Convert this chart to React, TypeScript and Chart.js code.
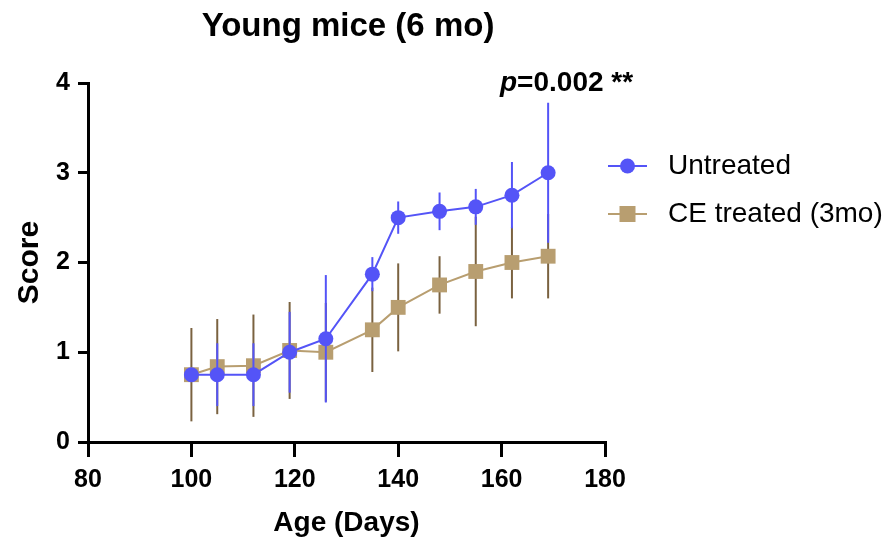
import React, { useEffect, useRef } from "react";
import { Chart, registerables } from "chart.js";

Chart.register(...registerables);

const ages = [100, 105, 112, 119, 126, 135, 140, 148, 155, 162, 169];
const untreatedMean = [0.75, 0.75, 0.75, 1.0, 1.15, 1.87, 2.5, 2.57, 2.62, 2.75, 3.0];
const untreatedSD = [0, 0.35, 0.35, 0.45, 0.71, 0.19, 0.18, 0.21, 0.2, 0.37, 0.78];
const ceMean = [0.75, 0.84, 0.85, 1.02, 1.0, 1.25, 1.5, 1.75, 1.9, 2.0, 2.07];
const ceSD = [0.52, 0.53, 0.57, 0.54, 0.55, 0.47, 0.49, 0.32, 0.61, 0.4, 0.47];

const seriesNames = ["Untreated", "CE treated (3mo)"];
const xTicks = [80, 100, 120, 140, 160, 180];
const yTicks = [0, 1, 2, 3, 4];
const titleText = "Young mice (6 mo)";
const xTitle = "Age (Days)";
const yTitle = "Score";
const pLabel = "p";
const pValueText = "=0.002 **";

const BLUE = "#5454F7";
const TAN = "#B89E70";
const BROWN = "#7A6240";
const FONT = "'Liberation Sans', Arial, Helvetica, sans-serif";

const errs = [untreatedSD, ceSD];
const means = [untreatedMean, ceMean];
const barColors = [BLUE, BROWN];

const errorBarPlugin = {
  id: "errorBars",
  beforeDatasetDraw(chart: any, args: any) {
    const i = args.index;
    const xs = chart.scales.x;
    const ys = chart.scales.y;
    const ctx = chart.ctx;
    ctx.save();
    ctx.strokeStyle = barColors[i];
    ctx.lineWidth = 2;
    ages.forEach((a, k) => {
      const sd = errs[i][k];
      if (!sd) return;
      const px = xs.getPixelForValue(a);
      const top = ys.getPixelForValue(means[i][k] + sd);
      const bot = ys.getPixelForValue(means[i][k] - sd);
      ctx.beginPath();
      ctx.moveTo(px, top);
      ctx.lineTo(px, bot);
      ctx.stroke();
    });
    ctx.restore();
  },
};

const textPlugin = {
  id: "texts",
  afterDraw(chart: any) {
    const ctx = chart.ctx;
    ctx.save();
    ctx.fillStyle = "#000";
    ctx.textBaseline = "middle";
    // title
    ctx.font = `bold 33px ${FONT}`;
    ctx.textAlign = "center";
    ctx.fillText(titleText, 348, 27);
    // p value
    ctx.textAlign = "left";
    ctx.font = `italic bold 28px ${FONT}`;
    const px0 = 500;
    ctx.fillText(pLabel, px0, 83);
    const w = ctx.measureText(pLabel).width;
    ctx.font = `bold 28px ${FONT}`;
    ctx.fillText(pValueText, px0 + w, 83);
    // legend
    const legendY = [166, 214];
    const lx1 = 608;
    const lx2 = 647;
    const mx = 627.5;
    legendY.forEach((ly, i) => {
      const col = i === 0 ? BLUE : TAN;
      ctx.strokeStyle = col;
      ctx.lineWidth = 2;
      ctx.beginPath();
      ctx.moveTo(lx1, ly);
      ctx.lineTo(lx2, ly);
      ctx.stroke();
      ctx.fillStyle = col;
      if (i === 0) {
        ctx.beginPath();
        ctx.arc(mx, ly, 7.5, 0, Math.PI * 2);
        ctx.fill();
      } else {
        ctx.fillRect(mx - 8, ly - 8, 16, 16);
      }
      ctx.fillStyle = "#000";
      ctx.font = `28px ${FONT}`;
      ctx.fillText(seriesNames[i], 668, ly);
    });
    ctx.restore();
  },
};

export default function App() {
  const ref = useRef<HTMLCanvasElement | null>(null);
  useEffect(() => {
    document.body.style.margin = "0";
    const canvas = ref.current;
    if (!canvas) return;
    const chart = new Chart(canvas, {
      type: "line",
      data: {
        datasets: [
          {
            label: seriesNames[0],
            data: ages.map((a, k) => ({ x: a, y: untreatedMean[k] })),
            borderColor: BLUE,
            backgroundColor: BLUE,
            borderWidth: 2,
            pointStyle: "circle",
            pointRadius: 7.5,
            pointBorderWidth: 0,
            pointBackgroundColor: BLUE,
            tension: 0,
            clip: false,
          },
          {
            label: seriesNames[1],
            data: ages.map((a, k) => ({ x: a, y: ceMean[k] })),
            borderColor: TAN,
            backgroundColor: TAN,
            borderWidth: 2,
            pointStyle: "rect",
            pointRadius: 10.5,
            pointBorderWidth: 0,
            pointBackgroundColor: TAN,
            tension: 0,
            clip: false,
          },
        ],
      },
      options: {
        responsive: false,
        animation: false,
        layout: { padding: { top: 83, right: 286, bottom: 0, left: 0 } },
        plugins: {
          legend: { display: false },
          title: { display: false },
          tooltip: { enabled: false },
        },
        scales: {
          x: {
            type: "linear",
            min: 80,
            max: 180,
            afterFit: (s: any) => {
              s.height = 103;
            },
            afterBuildTicks: (s: any) => {
              s.ticks = xTicks.map((v) => ({ value: v }));
            },
            ticks: {
              color: "#000",
              font: { family: FONT, size: 25, weight: "bold" },
              padding: 8,
              maxRotation: 0,
            },
            grid: {
              drawOnChartArea: false,
              drawTicks: true,
              tickLength: 15,
              color: "#000",
              tickColor: "#000",
              lineWidth: 3,
              tickWidth: 3,
            },
            border: { display: true, color: "#000", width: 3 },
            title: {
              display: true,
              text: xTitle,
              color: "#000",
              font: { family: FONT, size: 28, weight: "bold" },
              padding: { top: 0, bottom: 5 },
            },
          },
          y: {
            type: "linear",
            min: 0,
            max: 4,
            afterFit: (s: any) => {
              s.width = 88;
            },
            afterBuildTicks: (s: any) => {
              s.ticks = yTicks.map((v) => ({ value: v }));
            },
            ticks: {
              color: "#000",
              font: { family: FONT, size: 25, weight: "bold" },
              padding: 8,
            },
            grid: {
              drawOnChartArea: false,
              drawTicks: true,
              tickLength: 10,
              color: "#000",
              tickColor: "#000",
              lineWidth: 3,
              tickWidth: 3,
            },
            border: { display: true, color: "#000", width: 3 },
            title: {
              display: true,
              text: yTitle,
              color: "#000",
              font: { family: FONT, size: 30, weight: "bold" },
              padding: { top: 12, bottom: 0 },
            },
          },
        },
      },
      plugins: [errorBarPlugin, textPlugin],
    } as any);
    return () => chart.destroy();
  }, []);
  return (
    <div style={{ width: 891, height: 545 }}>
      <canvas ref={ref} width={891} height={545} />
    </div>
  );
}
